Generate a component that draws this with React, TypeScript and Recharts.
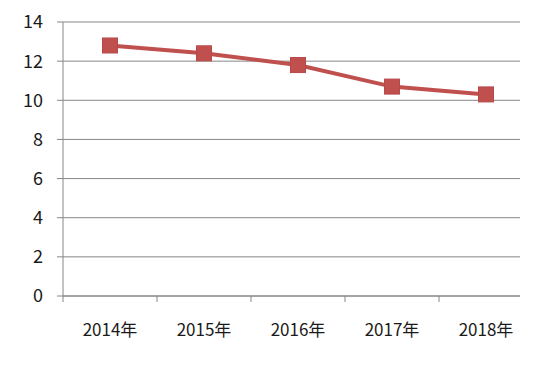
import React from "react";
import { LineChart, Line, XAxis, YAxis, CartesianGrid } from "recharts";

const years = ["2014年", "2015年", "2016年", "2017年", "2018年"];
const values = [12.8, 12.4, 11.8, 10.7, 10.3];
const yTicks = [0, 2, 4, 6, 8, 10, 12, 14];

const data = years.map((year, i) => ({ year, value: values[i] }));

const LINE_COLOR = "#C0504D";
const AXIS_COLOR = "#868686";
const FONT = "'Noto Sans CJK SC', 'Open Sans', sans-serif";

// 横轴刻度：刻度线放在类别之间，文字居中
// y 为轴线位置 + tickSize(6) + tickMargin(2)
const YearTick = (props: any) => {
  const { x, y, payload } = props;
  return (
    <g>
      <line x1={x - 47} y1={y - 8} x2={x - 47} y2={y - 2} stroke={AXIS_COLOR} />
      <text
        x={x}
        y={y + 32}
        textAnchor="middle"
        fill="#1a1a1a"
        fontSize={17}
        fontFamily={FONT}
      >
        {payload.value}
      </text>
    </g>
  );
};

// 方形标记
const SquareDot = (props: any) => {
  const { cx, cy, index } = props;
  const s = 15;
  return (
    <rect
      key={`dot-${index}`}
      x={cx - s / 2}
      y={cy - s / 2}
      width={s}
      height={s}
      fill={LINE_COLOR}
      stroke="#B8474A"
      strokeWidth={1}
    />
  );
};

export default function App() {
  return (
    <div style={{ position: "absolute", left: 0, top: 0, background: "#fff" }}>
      <LineChart
        width={556}
        height={366}
        data={data}
        margin={{ top: 22, right: 36, bottom: 0, left: 6 }}
      >
        <CartesianGrid
          vertical={false}
          stroke={AXIS_COLOR}
          strokeWidth={1}
        />
        <XAxis
          dataKey="year"
          padding={{ left: 47, right: 34 }}
          axisLine={{ stroke: AXIS_COLOR }}
          tickLine={false}
          tick={<YearTick />}
          interval={0}
          height={70}
        />
        <YAxis
          width={57}
          domain={[0, 14]}
          ticks={yTicks}
          interval={0}
          axisLine={{ stroke: AXIS_COLOR }}
          tickLine={{ stroke: AXIS_COLOR }}
          tickSize={6}
          tickMargin={14}
          tick={{ fill: "#1a1a1a", fontSize: 18, fontFamily: FONT }}
        />
        <Line
          type="linear"
          dataKey="value"
          stroke={LINE_COLOR}
          strokeWidth={4}
          dot={<SquareDot />}
          activeDot={false}
          isAnimationActive={false}
        />
      </LineChart>
    </div>
  );
}
